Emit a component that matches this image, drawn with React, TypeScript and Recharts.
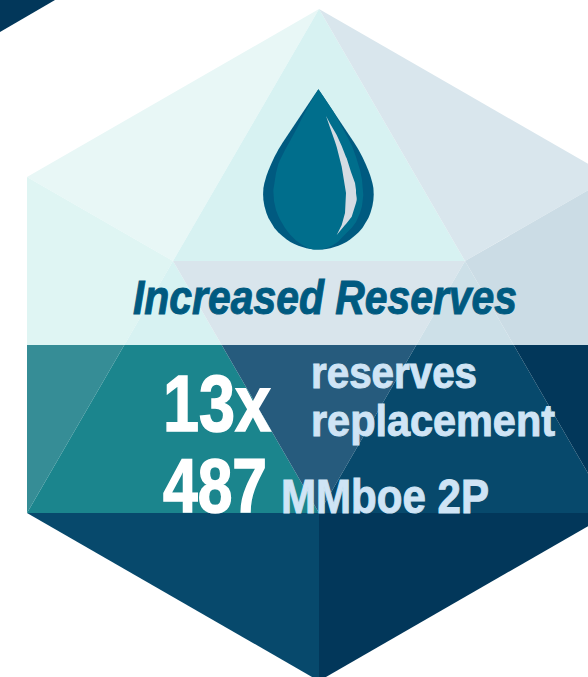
import { Area, ComposedChart, ReferenceDot, XAxis, YAxis } from 'recharts';

// every shape is a list of [x, top, bottom] spans, on a 588x677 grid
type Span = [number, number, number];

const cornerFacet: Span[] = [[0, 0, 32], [55, 0, 0]];
const topLeftFacet: Span[] = [[27, 177, 177], [173, 93, 261], [319, 9, 9]];
const topCenterFacet: Span[] = [[173, 261, 261], [319, 9, 261], [465, 261, 261]];
const topRightFacet: Span[] = [[319, 9, 9], [465, 93, 261], [611, 177, 177]];
const leftUpper: Span[] = [[27, 177, 345], [124.3, 233, 345], [173, 261, 261]];
const leftLower: Span[] = [[27, 345, 513], [124.3, 345, 345]];
const innerLeftUpper: Span[] = [[124.3, 345, 345], [173, 261, 345], [221.7, 345, 345]];
const innerLeftLower: Span[] = [[27, 513, 513], [124.3, 345, 513], [221.7, 345, 513], [319, 513, 513]];
const centerUpper: Span[] = [[173, 261, 261], [221.7, 261, 345], [416.3, 261, 345], [465, 261, 261]];
const centerLower: Span[] = [[221.7, 345, 345], [319, 345, 513], [416.3, 345, 345]];
const innerRightUpper: Span[] = [[416.3, 345, 345], [465, 261, 345], [513.7, 345, 345]];
const innerRightLower: Span[] = [[319, 513, 513], [416.3, 345, 513], [513.7, 345, 513], [611, 513, 513]];
const rightUpper: Span[] = [[465, 261, 261], [513.7, 233, 345], [611, 177, 345]];
const rightLower: Span[] = [[513.7, 345, 345], [611, 345, 513]];
const bottomLeft: Span[] = [[27, 513, 513], [319, 513, 681]];
const bottomRight: Span[] = [[319, 513, 681], [611, 513, 513]];

const dropOuter: Span[] = [
  [263.1, 194.2, 194.2], [263.4, 188, 200], [264.4, 183, 206], [266.4, 176, 213], [268.4, 170.5, 218], [271.4, 163.5, 223],
  [274.4, 157, 228], [278.4, 149.5, 232.4], [282.4, 143, 236], [286.4, 137, 239.3], [290.4, 131, 242], [294.4, 125, 244],
  [298.4, 119, 245.8], [302.4, 113, 247.1], [306.4, 107, 248.2], [310.4, 101, 248.9], [314.4, 95, 249.4], [318.4, 89.3, 249.5],
  [322.4, 95, 249.4], [326.4, 101, 248.9], [330.4, 107, 248.2], [334.4, 113, 247.1], [338.4, 119, 245.8], [342.4, 125, 244],
  [346.4, 131, 242], [350.4, 137, 239.3], [354.4, 143, 236], [358.4, 149.5, 232.4], [362.4, 157, 228], [365.4, 163.5, 223],
  [368.4, 170.5, 218], [370.4, 176, 213], [372.4, 183, 206], [373.4, 188, 200], [373.7, 194.2, 194.2],
];
const dropInner: Span[] = [
  [273.3, 190, 190], [274, 186, 201], [276, 173, 210], [278.3, 164, 216], [280, 160, 219.5], [285, 150, 228],
  [290, 141, 234.5], [296, 130, 240.5], [302, 118, 244.8], [308, 107, 248], [313, 98, 249.4], [318.4, 89.3, 249.5],
  [323, 96, 249.3], [328, 103.5, 247.5], [333, 111, 245], [338, 119.5, 241.7], [343, 129, 236.5], [348, 138, 231.5],
  [352, 146, 227.5], [356, 157, 222], [360, 170, 213], [362, 180, 206], [363.3, 195, 195],
];
const glintUpper: Span[] = [
  [326, 116, 116], [330, 123.5, 127.5], [335, 132, 141.7], [336.7, 135, 147], [341.7, 146, 166.7], [346, 157, 193],
  [346.7, 158.3, 193], [351, 172, 193], [355, 183, 193], [356, 190, 193],
];
const glintLower: Span[] = [
  [336.7, 235, 235], [341.7, 225, 229], [345, 213, 225], [346, 193, 224], [351.7, 193, 216.7], [356, 193, 203],
  [356.7, 198, 200],
];

const shapes: [Span[], string][] = [
  [cornerFacet, '#02375a'],
  [topLeftFacet, '#e8f7f6'],
  [topCenterFacet, '#d7f2f2'],
  [topRightFacet, '#d9e6ed'],
  [leftUpper, '#dff5f3'],
  [leftLower, '#368d96'],
  [innerLeftUpper, '#d7f2f2'],
  [innerLeftLower, '#1b858d'],
  [centerUpper, '#d9e5ec'],
  [centerLower, '#265b7d'],
  [innerRightUpper, '#cde0e8'],
  [innerRightLower, '#07496c'],
  [rightUpper, '#cbdce5'],
  [rightLower, '#02375a'],
  [bottomLeft, '#07496c'],
  [bottomRight, '#02375a'],
  [dropOuter, '#005a80'],
  [dropInner, '#006e8c'],
  [glintUpper, '#d4dce3'],
  [glintLower, '#d4dce3'],
];

const labels = ['Increased Reserves', '13x', '487', 'reserves', 'replacement', 'MMboe 2P'];
// x, baseline, fitted width, font size, colour, italic, extra weight
const labelStyles: [number, number, number, number, string, boolean, number][] = [
  [133, 314, 384, 48, '#005a80', true, 1],
  [163, 431, 108, 80, '#ffffff', false, 1.6],
  [163, 512, 104, 76, '#ffffff', false, 1.6],
  [311, 388, 166, 44, '#cfe4f5', false, 1],
  [311, 436, 244, 44, '#cfe4f5', false, 1],
  [281, 513, 208, 48, '#cfe4f5', false, 1],
];

const App = () => {
  return (
    <div style={{ position: 'absolute', left: 0, top: 0 }}>
      <ComposedChart width={588} height={677} margin={{ top: 0, right: 0, bottom: 0, left: 0 }}>
        <XAxis type='number' dataKey='x' domain={[0, 588]} allowDataOverflow hide />
        <YAxis type='number' domain={[0, 677]} reversed allowDataOverflow hide />
        {shapes.map(([spans, color], i) => (
          <Area
            key={i}
            data={spans.map(([x, top, bottom]) => ({ x, range: [top, bottom] }))}
            dataKey='range'
            type='linear'
            fill={color}
            fillOpacity={1}
            stroke='none'
            dot={false}
            activeDot={false}
            isAnimationActive={false}
          />
        ))}
        {labels.map((label, i) => {
          const [x, y, width, size, color, italic, weight] = labelStyles[i];
          return (
            <ReferenceDot
              key={label}
              x={x}
              y={y}
              r={0}
              shape={(props: { cx: number; cy: number }) => (
                <text
                  x={props.cx}
                  y={props.cy}
                  textLength={width}
                  lengthAdjust='spacingAndGlyphs'
                  fontFamily='"Liberation Sans Narrow", "Liberation Sans", sans-serif'
                  fontWeight={700}
                  fontStyle={italic ? 'italic' : 'normal'}
                  fontSize={size}
                  fill={color}
                  stroke={color}
                  strokeWidth={weight}
                >
                  {label}
                </text>
              )}
            />
          );
        })}
      </ComposedChart>
    </div>
  );
};

export default App;
